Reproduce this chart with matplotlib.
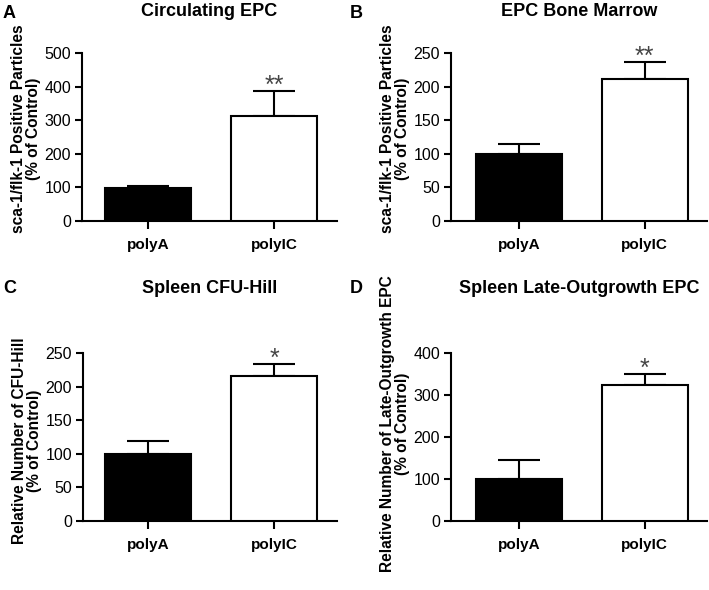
import matplotlib
matplotlib.use("Agg")
import matplotlib.pyplot as plt

plt.rcParams['font.family'] = ['Liberation Sans', 'DejaVu Sans']

categories = ["polyA", "polyIC"]

titles = ["Circulating EPC", "EPC Bone Marrow", "Spleen CFU-Hill", "Spleen Late-Outgrowth EPC"]
letters = ["A", "B", "C", "D"]
ylabels = ["sca-1/flk-1 Positive Particles\n(% of Control)",
           "sca-1/flk-1 Positive Particles\n(% of Control)",
           "Relative Number of CFU-Hill\n(% of Control)",
           "Relative Number of Late-Outgrowth EPC\n(% of Control)"]

means_a = [97, 313]
errs_a = [6, 73]
means_b = [100, 211.5]
errs_b = [15, 24.5]
means_c = [100, 216]
errs_c = [19, 17]
means_d = [100, 323]
errs_d = [46, 27]

stars = ["**", "**", "*", "*"]

yticks_a = [0, 100, 200, 300, 400, 500]
yticks_b = [0, 50, 100, 150, 200, 250]
yticks_c = [0, 50, 100, 150, 200, 250]
yticks_d = [0, 100, 200, 300, 400]

W, H = 709, 590
fig = plt.figure(figsize=(W / 100, H / 100), dpi=100)

# pixel boxes: left, right, top, bottom
boxes = [(82, 337, 53, 221), (451, 707, 53, 221), (83, 337, 353, 521), (451, 707, 353, 521)]
centers_px = [(148, 274), (519, 644.5), (148, 274), (519, 644.5)]
title_y = [12, 12, 288, 288]
letter_pos = [(3, 14), (350, 14), (3, 289), (350, 289)]
label_y = [0.55, 0.55, 0.48, 0.58]

data = [(means_a, errs_a, yticks_a), (means_b, errs_b, yticks_b),
        (means_c, errs_c, yticks_c), (means_d, errs_d, yticks_d)]

for i in range(4):
    l, r, t, b = boxes[i]
    ax = fig.add_axes([l / W, 1 - b / H, (r - l) / W, (b - t) / H])
    means, errs, yt = data[i]
    c0, c1 = centers_px[i]
    sp = c1 - c0
    x = [0, 1]
    ax.bar(x, means, width=86 / sp, color=["black", "white"], edgecolor="black",
           linewidth=1.5, zorder=3)
    ax.errorbar(x, means, yerr=[[0, 0], errs], fmt="none", ecolor="black",
                elinewidth=1.5, capsize=15, capthick=1.5, zorder=2)
    ax.set_xlim((l - c0) / sp, (r - c0) / sp)
    ax.set_ylim(yt[0], yt[-1])
    ax.set_yticks(yt)
    ax.set_xticks(x)
    ax.set_xticklabels(categories, fontweight="bold", fontsize=11)
    ax.tick_params(axis="y", labelsize=11.5, width=1.5, length=5, pad=3)
    ax.tick_params(axis="x", width=1.5, length=6, pad=6)
    for s in ["top", "right"]:
        ax.spines[s].set_visible(False)
    for s in ["left", "bottom"]:
        ax.spines[s].set_linewidth(1.5)
    ax.set_ylabel(ylabels[i], fontweight="bold", fontsize=11.2, linespacing=1.0,
                  labelpad=2, y=label_y[i])
    ax.annotate(stars[i], xy=(1, means[1] + errs[1]), xytext=(0, -1),
                textcoords="offset points", ha="center", va="baseline",
                fontsize=18, color="#444444")
    fig.text(((l + r) / 2) / W, 1 - title_y[i] / H, titles[i], ha="center", va="center",
             fontsize=13, fontweight="bold")
    lx, ly = letter_pos[i]
    fig.text(lx / W, 1 - ly / H, letters[i], ha="left", va="center",
             fontsize=13, fontweight="bold")

fig.savefig("out.png", dpi=100)
